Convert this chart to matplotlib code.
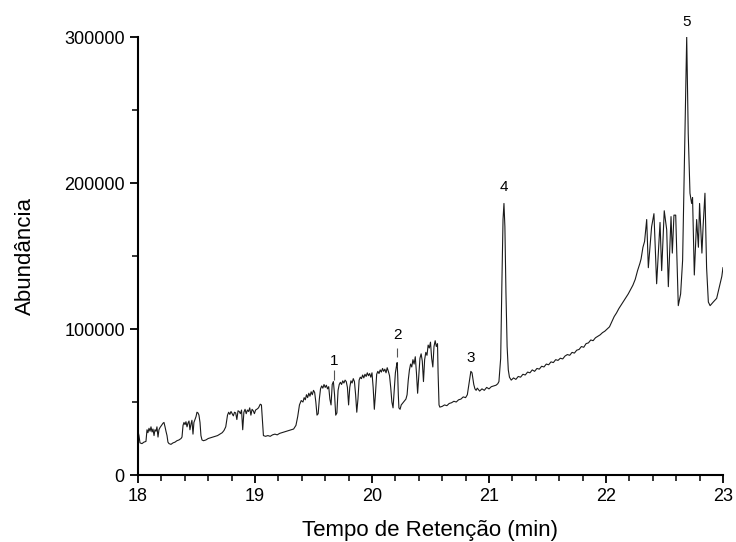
import matplotlib
matplotlib.use("Agg")
import matplotlib.pyplot as plt
from matplotlib.ticker import MultipleLocator

plt.rcParams['font.family'] = ['Liberation Sans', 'DejaVu Sans']

tempo = [
    18.000, 18.008, 18.017, 18.034, 18.050, 18.068, 18.077, 18.085, 18.094, 18.103,
    18.111, 18.120, 18.128, 18.137, 18.145, 18.154, 18.162, 18.171, 18.179, 18.188,
    18.197, 18.205, 18.214, 18.222, 18.231, 18.239, 18.248, 18.256, 18.265,
    18.282, 18.299, 18.316, 18.333, 18.350, 18.368, 18.376,
    18.385, 18.393, 18.402, 18.410, 18.419, 18.427, 18.436, 18.444, 18.453, 18.461,
    18.470, 18.478, 18.487, 18.496, 18.504, 18.513, 18.521, 18.530, 18.538, 18.547,
    18.56, 18.58, 18.60, 18.62, 18.64, 18.66, 18.68, 18.70, 18.72, 18.735, 18.75,
    18.765, 18.775, 18.785, 18.795, 18.805, 18.815, 18.825, 18.835, 18.845, 18.855,
    18.865, 18.875, 18.885, 18.895, 18.905, 18.915, 18.925, 18.935, 18.945, 18.955,
    18.965, 18.975, 18.985, 18.995, 19.005, 19.015, 19.030, 19.045, 19.055, 19.065, 19.072,
    19.09, 19.11, 19.13, 19.15, 19.17, 19.19, 19.21, 19.23, 19.25, 19.27, 19.29, 19.31,
    19.33, 19.35, 19.365, 19.38, 19.395,
    19.41, 19.42, 19.43, 19.44, 19.45, 19.46, 19.47, 19.48, 19.49, 19.50,
    19.51, 19.52, 19.53, 19.54, 19.55, 19.56, 19.57, 19.58, 19.59, 19.60,
    19.61, 19.62, 19.63, 19.64, 19.65, 19.66, 19.67, 19.68, 19.69, 19.70,
    19.71, 19.72, 19.73, 19.74, 19.75, 19.76, 19.77, 19.78, 19.79, 19.80,
    19.81, 19.82, 19.83, 19.84, 19.85, 19.86, 19.87, 19.88, 19.89, 19.90,
    19.91, 19.92, 19.93, 19.94, 19.95, 19.96, 19.97, 19.98, 19.99, 20.00,
    20.01, 20.02, 20.03, 20.04, 20.05, 20.06, 20.07, 20.08, 20.09, 20.10,
    20.11, 20.12, 20.13, 20.14, 20.15, 20.16, 20.17, 20.18, 20.19, 20.20,
    20.21, 20.215, 20.22, 20.225, 20.23, 20.24, 20.25, 20.26, 20.27, 20.28,
    20.29, 20.30, 20.31, 20.32, 20.33, 20.34, 20.35, 20.36, 20.37, 20.38,
    20.39, 20.40, 20.41, 20.42, 20.43, 20.44, 20.45, 20.46, 20.47, 20.48,
    20.49, 20.50, 20.51, 20.52, 20.53, 20.54, 20.55, 20.56, 20.565, 20.573,
    20.58, 20.60, 20.62, 20.64, 20.66, 20.68, 20.70, 20.72, 20.74, 20.76,
    20.78, 20.80, 20.815, 20.83, 20.845, 20.855, 20.87, 20.88, 20.89, 20.90,
    20.92, 20.94, 20.96, 20.98, 21.00, 21.02, 21.04, 21.06, 21.075, 21.085,
    21.10, 21.11, 21.12, 21.128, 21.136, 21.145, 21.155, 21.165, 21.175, 21.19,
    21.21, 21.23, 21.25, 21.27, 21.29, 21.31, 21.33, 21.35, 21.37, 21.39,
    21.41, 21.43, 21.45, 21.47, 21.49, 21.51, 21.53, 21.55, 21.57, 21.59,
    21.61, 21.63, 21.65, 21.67, 21.69, 21.71, 21.73, 21.75, 21.77, 21.79,
    21.81, 21.83, 21.85, 21.87, 21.89, 21.91, 21.93, 21.95, 21.97, 21.99,
    22.01, 22.03, 22.05, 22.07, 22.09, 22.11, 22.13, 22.15, 22.17, 22.19,
    22.21, 22.23, 22.25, 22.27, 22.29, 22.30, 22.316, 22.33, 22.348, 22.362,
    22.39, 22.41, 22.433, 22.462, 22.476, 22.498, 22.519, 22.533, 22.556, 22.567,
    22.581, 22.596, 22.618, 22.638, 22.655, 22.675, 22.69, 22.703, 22.718, 22.732,
    22.74, 22.755, 22.775, 22.79, 22.80, 22.82, 22.83, 22.846, 22.86, 22.875,
    22.89, 22.917, 22.946, 22.975, 22.99, 23.00,
]
abundancia = [
    30000, 27000, 22000, 21500, 22500, 23000, 31000, 29000, 32000, 30000,
    33000, 29500, 31500, 27000, 31000, 30000, 33000, 26000, 31000, 32500,
    33500, 34500, 35500, 36000, 33000, 30000, 27000, 22500, 21500,
    21000, 22000, 22500, 23500, 24000, 25000, 26000,
    34000, 36000, 34500, 36500, 33000, 35500, 37000, 31000, 35000, 37500,
    28000, 36000, 38000, 40000, 43000, 42500, 41000, 36000, 27000, 24000,
    23500, 24000, 25000, 25500, 26000, 26500, 27000, 28000, 29000, 30500, 33000,
    41000, 43000, 41500, 43500, 42000, 40500, 43000, 42500, 38000, 44000,
    43500, 42000, 44500, 31000, 43000, 45000, 42000, 44500, 43500, 46000,
    41000, 45000, 44000, 42000, 44500, 45000, 46000, 48500, 48000, 35000, 27000,
    26500, 27000, 26500, 27500, 28000, 27500, 28500, 29000, 29500, 30000, 30500, 31000,
    31500, 34000, 40000, 48000, 51000,
    50000, 53000, 51500, 55000, 53000, 56000, 54000, 57000, 55000, 58000,
    56500, 50000, 41000, 42000, 52000, 59000, 61000, 59500, 62000, 60000,
    61500, 59000, 60500, 52000, 48000, 62000, 64000, 55000, 41000, 42500,
    58000, 62000, 63500, 62000, 64500, 63000, 65000, 64000, 60000, 48000,
    60000, 64500, 63000, 66000, 64000, 55000, 43000, 52000, 65000, 67000,
    66000, 68500, 66500, 69000, 67500, 70000, 68000, 69500, 67000, 70000,
    60000, 45000, 56000, 69000, 71000, 69500, 72000, 70500, 73000, 71000,
    72500, 70000, 73500, 71000, 68000, 60000, 50000, 46000, 58000, 70000,
    75000, 77000, 68000, 55000, 46000, 45000, 48000, 49000, 50000, 51000,
    52000, 55000, 65000, 72000, 76000, 74000, 79000, 76000, 81000, 70000,
    56000, 68000, 80000, 83000, 78000, 64000, 79000, 84000, 82000, 89000,
    87000, 91000, 80000, 74000, 88000, 92000, 88000, 90000, 70000, 48000,
    46500, 47000, 48000, 47500, 49000, 49500, 50500, 50000, 51500, 52000,
    53500, 53000, 55000, 63000, 71000, 70000, 62000, 59000, 58000, 59500,
    57500, 59000, 58000, 60000, 59000, 60500, 61000, 61500, 62500, 64000,
    80000, 130000, 175000, 186000, 170000, 125000, 88000, 72000, 67000, 65000,
    66500, 65500, 67500, 67000, 69000, 68500, 70500, 70000, 72000, 71000,
    73000, 72500, 74500, 74000, 76000, 75500, 77500, 77000, 79000, 78500,
    80000, 79500, 81500, 82500, 82000, 84000, 83500, 85500, 86000, 88000,
    87500, 90000, 90500, 92500, 92000, 94000, 95000, 96000, 97500, 98500,
    100000, 101500, 105000, 108500, 111000, 114000, 116500, 119000, 121500, 124000,
    127000, 130000, 134000, 140000, 145000, 148000, 156000, 160000, 175000, 142000,
    170000, 179000, 131000, 173000, 140000, 181000, 168000, 129000, 177000, 152000,
    178000, 178000, 116000, 124000, 147000, 234000, 300000, 234000, 193000, 186000,
    190000, 137000, 175000, 156000, 186000, 152000, 170000, 193000, 142000, 118500,
    116000, 118500, 121000, 131000, 136000, 142000,
]

# rótulos dos picos: (texto, tempo, altura do texto)
picos = ['1', '2', '3', '4', '5']
picos_t = [19.675, 20.214, 20.846, 21.128, 22.69]
picos_y = [78000, 96000, 80300, 197500, 310000]
# traços verticais sob os rótulos 1 e 2
tracos_t = [19.675, 20.214]
tracos_y0 = [65000, 81000]
tracos_y1 = [72000, 87000]

fig = plt.figure(figsize=(7.36, 5.42), dpi=100)
ax = fig.add_axes([0.1875, 0.1236, 0.7948, 0.8081])

ax.plot(tempo, abundancia, color='#1a1a1a', lw=0.8)

for txt, t, y in zip(picos, picos_t, picos_y):
    ax.text(t, y, txt, ha='center', va='center', fontsize=11, clip_on=False)
ax.vlines(tracos_t, tracos_y0, tracos_y1, color='#555555', lw=0.8)

ax.set_xlim(18, 23)
ax.set_ylim(0, 300000)
ax.xaxis.set_major_locator(MultipleLocator(1))
ax.xaxis.set_minor_locator(MultipleLocator(0.2))
ax.yaxis.set_major_locator(MultipleLocator(100000))
ax.yaxis.set_minor_locator(MultipleLocator(50000))

for s in ['top', 'right']:
    ax.spines[s].set_visible(False)
for s in ['left', 'bottom']:
    ax.spines[s].set_linewidth(1.5)

ax.tick_params(which='major', direction='out', length=6, width=1.3, labelsize=13)
ax.tick_params(which='minor', direction='out', length=4, width=1.1)

ax.set_xlabel('Tempo de Retenção (min)', fontsize=16, labelpad=11)
ax.set_ylabel('Abundância', fontsize=16, labelpad=20)

fig.savefig('out.png', dpi=100)
